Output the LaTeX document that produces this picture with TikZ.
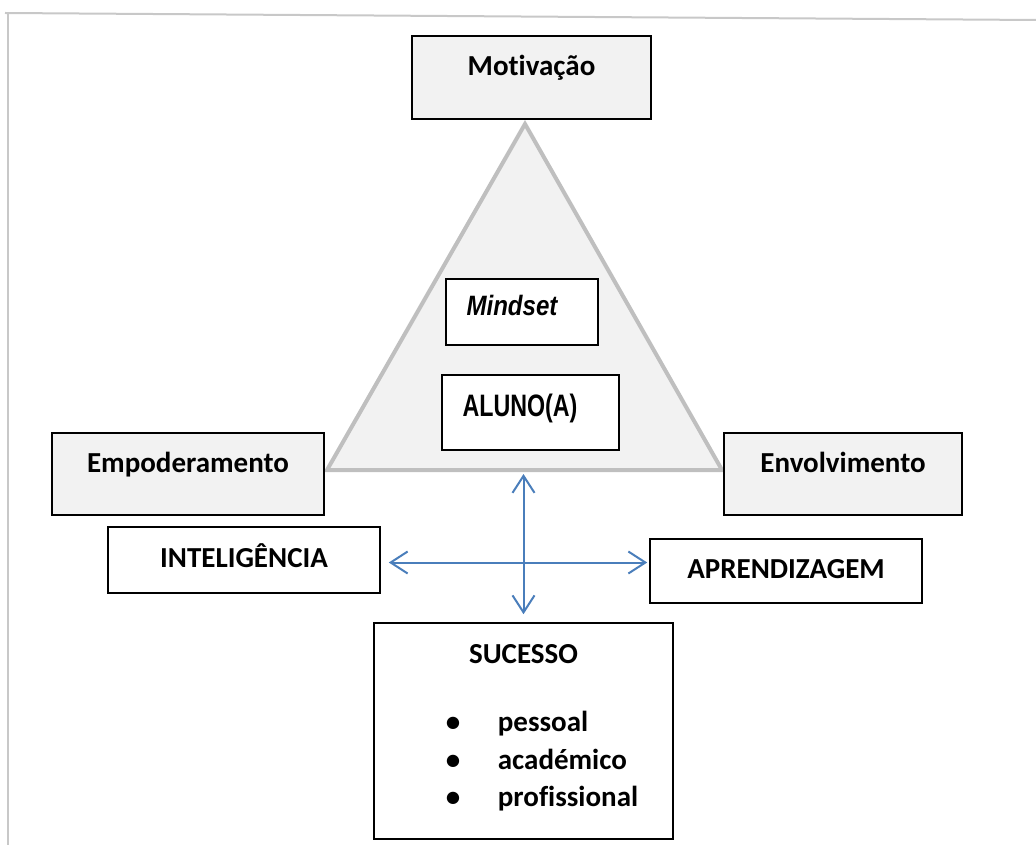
\documentclass[tikz,border=0pt]{standalone}
\usepackage{fontspec}
\setmainfont{Carlito}[Ligatures=NoCommon]
\newfontfamily\arialfont{Liberation Sans}
\usetikzlibrary{arrows.meta}
\definecolor{boxgray}{HTML}{F2F2F2}
\definecolor{trigray}{HTML}{BFBFBF}
\definecolor{framegray}{HTML}{C8C8C8}
\definecolor{linkblue}{HTML}{4A7EBB}
\tikzset{
  box/.style={draw=black, line width=0.8pt, fill=white, inner sep=0pt,
    font=\bfseries\fontsize{14.5}{17}\selectfont},
  labelbox/.style={box, text height=9.5pt, text depth=2.5pt},
  shadedbox/.style={box, fill=boxgray, text height=10pt, text depth=12pt},
  innerbox/.style={box, font=\arialfont\bfseries},
  link/.style={draw=linkblue, line width=1pt,
    {Straight Barb[length=8.5pt,width=11pt]}-{Straight Barb[length=8.5pt,width=11pt]}}
}
\begin{document}
\begin{tikzpicture}[x=0.5pt,y=-0.5pt]
\useasboundingbox (0,0) rectangle (1036,845);
% page frame
\draw[framegray, line width=1pt] (5,13) -- (1036,20);
\draw[framegray, line width=1pt] (7.5,13) -- (7.5,845);
% triangle
\coordinate (apex) at (525,124);
\coordinate (left) at (327,470);
\coordinate (right) at (722,470);
\filldraw[fill=boxgray, draw=trigray, line width=2pt] (apex) -- (left) -- (right) -- cycle;
% corners
\node[shadedbox, minimum width=119.5pt, minimum height=41.5pt, text depth=11.5pt] (motiv) at (531.5,77.5) {Motivação};
\node[shadedbox, minimum width=136pt, minimum height=41pt] (empod) at (188,474) {Empoderamento};
\node[shadedbox, minimum width=119pt, minimum height=41pt] (envolv) at (843,474) {Envolvimento};
% inside the triangle
\node[innerbox, minimum width=76pt, minimum height=33pt, text height=10.5pt, text depth=6.8pt] (mindset) at (522,312)
  {\fontsize{14}{16}\selectfont\itshape\scalebox{0.86}[1]{Mindset}\hspace*{10pt}};
\node[innerbox, minimum width=88.5pt, minimum height=37.5pt, text height=11.5pt, text depth=7.3pt] (aluno) at (530.5,412.5)
  {\fontsize{15.5}{18}\selectfont\scalebox{0.75}[1]{ALUNO(A)}\hspace*{10.5pt}};
% below
\node[labelbox, minimum width=136pt, minimum height=33pt] (intel) at (244,560) {INTELIGÊNCIA};
\node[labelbox, minimum width=136pt, minimum height=32pt] (aprend) at (786,571) {APRENDIZAGEM};
\node[box, minimum width=149.5pt, minimum height=108pt, align=center] (sucesso) at (523.5,731)
  {SUCESSO\\[17pt]\hspace*{18.5pt}\begin{tabular}[t]{@{}l@{}}
    \makebox[26pt][l]{\textbullet}pessoal\\[1.75pt]
    \makebox[26pt][l]{\textbullet}académico\\[1.75pt]
    \makebox[26pt][l]{\textbullet}profissional
  \end{tabular}};
% arrows
\coordinate (basemid) at (523.5,474);
\draw[link] (basemid) -- ([yshift=4pt]sucesso.north);
\draw[link] ([shift={(4pt,-1.25pt)}]intel.east) -- ([shift={(-1pt,4.25pt)}]aprend.west);
\end{tikzpicture}
\end{document}
